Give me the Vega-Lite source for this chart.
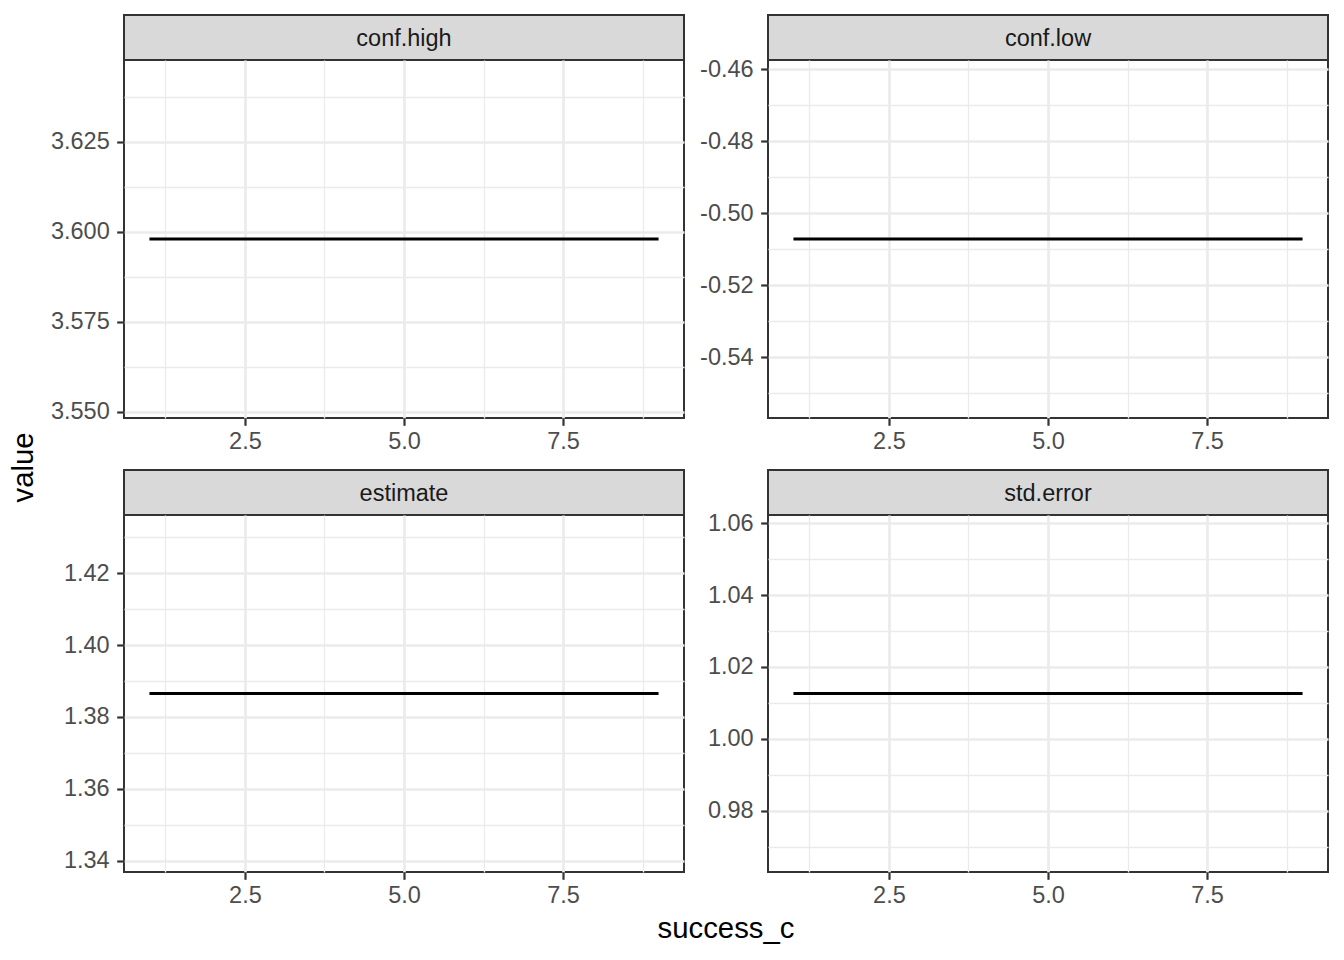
{
  "$schema": "https://vega.github.io/schema/vega-lite/v6.json",
  "padding": {"top": 14, "left": 0, "right": 0, "bottom": 0},
  "background": "white",
  "config": {
    "font": "Liberation Sans",
    "view": {"stroke": null},
    "axis": {
      "labelFont": "Liberation Sans",
      "labelFontSize": 23.5,
      "labelColor": "#4D4D4D",
      "tickColor": "#333333",
      "tickSize": 7.3,
      "tickWidth": 2.2,
      "gridColor": "#EBEBEB",
      "domain": false,
      "labelOverlap": false,
      "labelFlush": false,
      "labelBound": false,
      "title": null
    },
    "axisX": {"labelPadding": 4, "minExtent": 36, "maxExtent": 36},
    "axisY": {"labelPadding": 7.5, "minExtent": 72, "maxExtent": 72}
  },
  "datasets": {
    "coef": [
      {"term": "conf.high", "success_c": 1, "value": 3.598},
      {"term": "conf.high", "success_c": 2, "value": 3.598},
      {"term": "conf.high", "success_c": 3, "value": 3.598},
      {"term": "conf.high", "success_c": 4, "value": 3.598},
      {"term": "conf.high", "success_c": 5, "value": 3.598},
      {"term": "conf.high", "success_c": 6, "value": 3.598},
      {"term": "conf.high", "success_c": 7, "value": 3.598},
      {"term": "conf.high", "success_c": 8, "value": 3.598},
      {"term": "conf.high", "success_c": 9, "value": 3.598},
      {"term": "conf.low", "success_c": 1, "value": -0.5072},
      {"term": "conf.low", "success_c": 2, "value": -0.5072},
      {"term": "conf.low", "success_c": 3, "value": -0.5072},
      {"term": "conf.low", "success_c": 4, "value": -0.5072},
      {"term": "conf.low", "success_c": 5, "value": -0.5072},
      {"term": "conf.low", "success_c": 6, "value": -0.5072},
      {"term": "conf.low", "success_c": 7, "value": -0.5072},
      {"term": "conf.low", "success_c": 8, "value": -0.5072},
      {"term": "conf.low", "success_c": 9, "value": -0.5072},
      {"term": "estimate", "success_c": 1, "value": 1.3865},
      {"term": "estimate", "success_c": 2, "value": 1.3865},
      {"term": "estimate", "success_c": 3, "value": 1.3865},
      {"term": "estimate", "success_c": 4, "value": 1.3865},
      {"term": "estimate", "success_c": 5, "value": 1.3865},
      {"term": "estimate", "success_c": 6, "value": 1.3865},
      {"term": "estimate", "success_c": 7, "value": 1.3865},
      {"term": "estimate", "success_c": 8, "value": 1.3865},
      {"term": "estimate", "success_c": 9, "value": 1.3865},
      {"term": "std.error", "success_c": 1, "value": 1.0126},
      {"term": "std.error", "success_c": 2, "value": 1.0126},
      {"term": "std.error", "success_c": 3, "value": 1.0126},
      {"term": "std.error", "success_c": 4, "value": 1.0126},
      {"term": "std.error", "success_c": 5, "value": 1.0126},
      {"term": "std.error", "success_c": 6, "value": 1.0126},
      {"term": "std.error", "success_c": 7, "value": 1.0126},
      {"term": "std.error", "success_c": 8, "value": 1.0126},
      {"term": "std.error", "success_c": 9, "value": 1.0126}
    ],
    "panels": [
      {"term": "conf.high"},
      {"term": "conf.low"},
      {"term": "estimate"},
      {"term": "std.error"}
    ],
    "titles": [
      {"axis": "x", "label": "success_c"},
      {"axis": "y", "label": "value"}
    ]
  },
  "spacing": 1,
  "hconcat": [
    {
      "width": 48,
      "height": 905,
      "data": {"name": "titles"},
      "transform": [{"filter": "datum.axis == 'y'"}],
      "mark": {"type": "text", "font": "Liberation Sans", "fontSize": 29.3, "color": "black", "angle": 270, "baseline": "middle", "align": "center"},
      "encoding": {"text": {"field": "label"}}
    },
    {
      "spacing": 7,
      "vconcat": [
        {
          "spacing": 10,
          "hconcat": [
            {
              "bounds": "flush",
              "spacing": 0,
              "vconcat": [
                {
                  "width": 560, "height": 45,
                  "data": {"name": "panels"},
                  "transform": [{"filter": "datum.term == 'conf.high'"}],
                  "mark": {"type": "text", "font": "Liberation Sans", "fontSize": 23.5, "color": "#1A1A1A", "dy": 1.5},
                  "encoding": {"text": {"field": "term"}},
                  "view": {"fill": "#D9D9D9", "stroke": "#333333", "strokeWidth": 2}
                },
                {
                  "width": 560, "height": 358,
                  "data": {"name": "coef"},
                  "transform": [{"filter": "datum.term == 'conf.high'"}],
                  "mark": {"type": "line", "color": "black", "strokeWidth": 2.8},
                  "encoding": {
                    "x": {"field": "success_c", "type": "quantitative", "scale": {"domain": [0.6, 9.4], "nice": false, "zero": false},
                      "axis": {"values": [1.25, 2.5, 3.75, 5, 6.25, 7.5, 8.75], "labelExpr": "datum.value % 2.5 == 0 ? format(datum.value, '.1f') : ''", "tickOpacity": {"condition": {"test": "datum.value % 2.5 == 0", "value": 1}, "value": 0}, "gridWidth": {"condition": {"test": "datum.value % 2.5 == 0", "value": 2.7}, "value": 1.35}, "minExtent": 43, "maxExtent": 43}},
                    "y": {"field": "value", "type": "quantitative", "scale": {"domain": [3.5483, 3.6477], "nice": false, "zero": false},
                      "axis": {"values": [3.55, 3.5625, 3.575, 3.5875, 3.6, 3.6125, 3.625, 3.6375], "labelExpr": "abs(datum.value*40 - round(datum.value*40)) < 1e-6 ? format(datum.value, '.3f') : ''", "tickOpacity": {"condition": {"test": "abs(datum.value*40 - round(datum.value*40)) < 1e-6", "value": 1}, "value": 0}, "gridWidth": {"condition": {"test": "abs(datum.value*40 - round(datum.value*40)) < 1e-6", "value": 2.7}, "value": 1.35}}}
                  },
                  "view": {"fill": "white", "stroke": "#333333", "strokeWidth": 2}
                }
              ]
            },
            {
              "bounds": "flush",
              "spacing": 0,
              "vconcat": [
                {
                  "width": 560, "height": 45,
                  "data": {"name": "panels"},
                  "transform": [{"filter": "datum.term == 'conf.low'"}],
                  "mark": {"type": "text", "font": "Liberation Sans", "fontSize": 23.5, "color": "#1A1A1A", "dy": 1.5},
                  "encoding": {"text": {"field": "term"}},
                  "view": {"fill": "#D9D9D9", "stroke": "#333333", "strokeWidth": 2}
                },
                {
                  "width": 560, "height": 358,
                  "data": {"name": "coef"},
                  "transform": [{"filter": "datum.term == 'conf.low'"}],
                  "mark": {"type": "line", "color": "black", "strokeWidth": 2.8},
                  "encoding": {
                    "x": {"field": "success_c", "type": "quantitative", "scale": {"domain": [0.6, 9.4], "nice": false, "zero": false},
                      "axis": {"values": [1.25, 2.5, 3.75, 5, 6.25, 7.5, 8.75], "labelExpr": "datum.value % 2.5 == 0 ? format(datum.value, '.1f') : ''", "tickOpacity": {"condition": {"test": "datum.value % 2.5 == 0", "value": 1}, "value": 0}, "gridWidth": {"condition": {"test": "datum.value % 2.5 == 0", "value": 2.7}, "value": 1.35}, "minExtent": 43, "maxExtent": 43}},
                    "y": {"field": "value", "type": "quantitative", "scale": {"domain": [-0.5569, -0.4575], "nice": false, "zero": false},
                      "axis": {"values": [-0.55, -0.54, -0.53, -0.52, -0.51, -0.5, -0.49, -0.48, -0.47, -0.46], "labelExpr": "abs(datum.value*50 - round(datum.value*50)) < 1e-6 ? replace(format(datum.value, '.2f'), '−', '-') : ''", "tickOpacity": {"condition": {"test": "abs(datum.value*50 - round(datum.value*50)) < 1e-6", "value": 1}, "value": 0}, "gridWidth": {"condition": {"test": "abs(datum.value*50 - round(datum.value*50)) < 1e-6", "value": 2.7}, "value": 1.35}}}
                  },
                  "view": {"fill": "white", "stroke": "#333333", "strokeWidth": 2}
                }
              ]
            }
          ]
        },
        {
          "spacing": 10,
          "hconcat": [
            {
              "bounds": "flush",
              "spacing": 0,
              "vconcat": [
                {
                  "width": 560, "height": 45,
                  "data": {"name": "panels"},
                  "transform": [{"filter": "datum.term == 'estimate'"}],
                  "mark": {"type": "text", "font": "Liberation Sans", "fontSize": 23.5, "color": "#1A1A1A", "dy": 1.5},
                  "encoding": {"text": {"field": "term"}},
                  "view": {"fill": "#D9D9D9", "stroke": "#333333", "strokeWidth": 2}
                },
                {
                  "width": 560, "height": 357,
                  "data": {"name": "coef"},
                  "transform": [{"filter": "datum.term == 'estimate'"}],
                  "mark": {"type": "line", "color": "black", "strokeWidth": 2.8},
                  "encoding": {
                    "x": {"field": "success_c", "type": "quantitative", "scale": {"domain": [0.6, 9.4], "nice": false, "zero": false},
                      "axis": {"values": [1.25, 2.5, 3.75, 5, 6.25, 7.5, 8.75], "labelExpr": "datum.value % 2.5 == 0 ? format(datum.value, '.1f') : ''", "tickOpacity": {"condition": {"test": "datum.value % 2.5 == 0", "value": 1}, "value": 0}, "gridWidth": {"condition": {"test": "datum.value % 2.5 == 0", "value": 2.7}, "value": 1.35}, "minExtent": 28, "maxExtent": 28}},
                    "y": {"field": "value", "type": "quantitative", "scale": {"domain": [1.3368, 1.4362], "nice": false, "zero": false},
                      "axis": {"values": [1.34, 1.35, 1.36, 1.37, 1.38, 1.39, 1.4, 1.41, 1.42, 1.43], "labelExpr": "abs(datum.value*50 - round(datum.value*50)) < 1e-6 ? format(datum.value, '.2f') : ''", "tickOpacity": {"condition": {"test": "abs(datum.value*50 - round(datum.value*50)) < 1e-6", "value": 1}, "value": 0}, "gridWidth": {"condition": {"test": "abs(datum.value*50 - round(datum.value*50)) < 1e-6", "value": 2.7}, "value": 1.35}}}
                  },
                  "view": {"fill": "white", "stroke": "#333333", "strokeWidth": 2}
                }
              ]
            },
            {
              "bounds": "flush",
              "spacing": 0,
              "vconcat": [
                {
                  "width": 560, "height": 45,
                  "data": {"name": "panels"},
                  "transform": [{"filter": "datum.term == 'std.error'"}],
                  "mark": {"type": "text", "font": "Liberation Sans", "fontSize": 23.5, "color": "#1A1A1A", "dy": 1.5},
                  "encoding": {"text": {"field": "term"}},
                  "view": {"fill": "#D9D9D9", "stroke": "#333333", "strokeWidth": 2}
                },
                {
                  "width": 560, "height": 357,
                  "data": {"name": "coef"},
                  "transform": [{"filter": "datum.term == 'std.error'"}],
                  "mark": {"type": "line", "color": "black", "strokeWidth": 2.8},
                  "encoding": {
                    "x": {"field": "success_c", "type": "quantitative", "scale": {"domain": [0.6, 9.4], "nice": false, "zero": false},
                      "axis": {"values": [1.25, 2.5, 3.75, 5, 6.25, 7.5, 8.75], "labelExpr": "datum.value % 2.5 == 0 ? format(datum.value, '.1f') : ''", "tickOpacity": {"condition": {"test": "datum.value % 2.5 == 0", "value": 1}, "value": 0}, "gridWidth": {"condition": {"test": "datum.value % 2.5 == 0", "value": 2.7}, "value": 1.35}, "minExtent": 28, "maxExtent": 28}},
                    "y": {"field": "value", "type": "quantitative", "scale": {"domain": [0.9629, 1.0623], "nice": false, "zero": false},
                      "axis": {"values": [0.97, 0.98, 0.99, 1.0, 1.01, 1.02, 1.03, 1.04, 1.05, 1.06], "labelExpr": "abs(datum.value*50 - round(datum.value*50)) < 1e-6 ? format(datum.value, '.2f') : ''", "tickOpacity": {"condition": {"test": "abs(datum.value*50 - round(datum.value*50)) < 1e-6", "value": 1}, "value": 0}, "gridWidth": {"condition": {"test": "abs(datum.value*50 - round(datum.value*50)) < 1e-6", "value": 2.7}, "value": 1.35}}}
                  },
                  "view": {"fill": "white", "stroke": "#333333", "strokeWidth": 2}
                }
              ]
            }
          ]
        },
        {
          "width": 1204,
          "height": 12,
          "data": {"name": "titles"},
          "transform": [{"filter": "datum.axis == 'x'"}],
          "mark": {"type": "text", "font": "Liberation Sans", "fontSize": 29.3, "color": "black", "baseline": "middle", "align": "center"},
          "encoding": {
            "text": {"field": "label"},
            "y": {"field": "label", "type": "nominal", "axis": {"labels": false, "ticks": false, "domain": false, "grid": false}}
          }
        }
      ]
    }
  ]
}
